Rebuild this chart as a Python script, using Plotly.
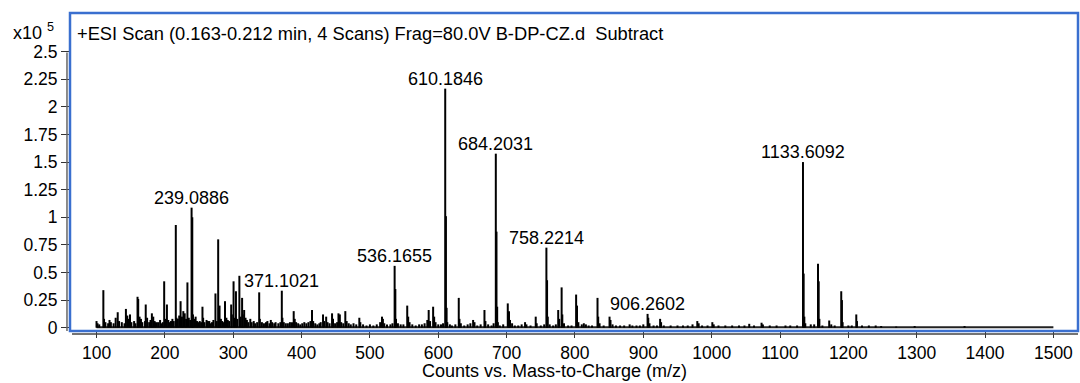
import plotly.graph_objects as go

# Centroid-style stick list: m/z and abundance (counts x 10^5)
mz = [
    100.0, 101.5, 104, 110, 111, 113, 117, 119, 121, 125, 128, 131, 133, 137, 141, 143, 145, 147, 149, 151,
    155, 157, 160, 161, 163, 165, 167, 171, 172, 174, 177, 179, 181, 183, 185, 187, 190, 193, 195, 197,
    199, 201, 203, 205, 207, 209, 211, 213, 216, 217, 219, 221, 223, 225, 227, 229, 231, 233, 235, 237,
    239.0886, 240.1, 241.1, 243, 245, 247, 249, 251, 253, 255, 256, 258, 261, 263, 265, 267, 269, 271, 274, 276,
    278, 279, 280, 282, 284, 286, 288, 290, 292, 294, 297, 298, 300.5, 302, 304, 306, 309, 311, 313, 314,
    316, 318, 320, 322, 325, 327, 330, 332, 335, 338, 339, 342, 345, 348, 350, 353, 355, 357, 360, 362,
    366, 369, 371.1021, 372, 374, 377, 380, 383, 386, 388.5, 390, 392, 395, 398, 401, 404, 407, 410, 413, 415.3,
    417, 420, 423, 426, 428, 431.4, 433, 436, 438, 441, 444.6, 446, 449, 452, 454, 456, 458, 461, 464, 466,
    469, 472, 476, 480, 484.5, 486, 490, 495, 500, 505, 510, 515, 517.7, 519, 521, 525, 530, 533,
    536.1655, 537.2, 538.2, 541, 545, 549, 554.6, 556, 558, 562, 567, 572, 576, 580, 584, 586, 588, 592.5, 594, 596,
    600, 604, 607, 610.1846, 611.2, 612.2, 613.2, 617, 620, 625, 630, 631, 633, 638, 643, 647, 651, 653, 657, 662,
    667.6, 669, 673, 678, 681, 684.2031, 685.2, 686.2, 687.2, 690, 695, 701.7, 703.5, 705, 708, 712, 717, 722, 727, 729,
    735, 742.6, 744, 750, 755, 758.2214, 759.2, 760.2, 763, 768, 772, 775.5, 777, 780.5, 781.5, 784, 790, 795,
    801.7, 803, 805, 810, 813, 816, 820, 825, 833, 834, 836, 842, 850.6, 852, 855, 860, 866, 872, 880, 884,
    890, 895, 900, 906.2602, 907.3, 909, 915, 920, 924.6, 926, 930, 940, 950, 958, 965, 972, 979, 981, 986, 994,
    1001, 1003, 1010, 1020, 1030, 1040, 1048, 1055, 1062, 1073, 1075, 1085, 1095, 1108, 1115, 1125,
    1133.6092, 1134.6, 1135.6, 1137, 1145, 1150, 1155.6, 1156.6, 1157.6, 1162, 1172, 1175, 1180,
    1189.6, 1190.6, 1191.6, 1200, 1205, 1211.6, 1212.6, 1220, 1230, 1240, 1248, 1270, 1297, 1370,
]
abundance = [
    0.06, 0.04, 0.03, 0.34, 0.08, 0.05, 0.04, 0.07, 0.05, 0.04, 0.09, 0.14, 0.06, 0.05, 0.04, 0.17, 0.11, 0.08, 0.12, 0.05,
    0.06, 0.04, 0.28, 0.26, 0.10, 0.08, 0.05, 0.06, 0.21, 0.09, 0.05, 0.07, 0.13, 0.10, 0.06, 0.05, 0.05, 0.07, 0.04, 0.05,
    0.42, 0.08, 0.21, 0.07, 0.05, 0.06, 0.08, 0.06, 0.93, 0.09, 0.08, 0.11, 0.24, 0.10, 0.15, 0.13, 0.08, 0.41, 0.09, 0.07,
    1.087, 1.00, 0.12, 0.08, 0.10, 0.06, 0.05, 0.06, 0.05, 0.19, 0.09, 0.05, 0.07, 0.06, 0.06, 0.04, 0.05, 0.07, 0.31, 0.06,
    0.80, 0.18, 0.20, 0.08, 0.06, 0.05, 0.24, 0.09, 0.07, 0.06, 0.21, 0.12, 0.42, 0.09, 0.33, 0.08, 0.47, 0.10, 0.27, 0.12,
    0.16, 0.09, 0.07, 0.05, 0.08, 0.05, 0.06, 0.04, 0.05, 0.32, 0.08, 0.05, 0.04, 0.05, 0.06, 0.04, 0.07, 0.05, 0.04, 0.05,
    0.04, 0.05, 0.335, 0.09, 0.05, 0.04, 0.04, 0.05, 0.05, 0.15, 0.08, 0.05, 0.04, 0.03, 0.04, 0.05, 0.04, 0.05, 0.06, 0.16,
    0.06, 0.04, 0.03, 0.04, 0.05, 0.12, 0.06, 0.10, 0.05, 0.04, 0.13, 0.08, 0.04, 0.05, 0.13, 0.12, 0.05, 0.04, 0.15, 0.06,
    0.04, 0.03, 0.04, 0.03, 0.09, 0.05, 0.03, 0.02, 0.03, 0.02, 0.03, 0.05, 0.10, 0.08, 0.04, 0.03, 0.03, 0.04,
    0.56, 0.35, 0.08, 0.04, 0.03, 0.03, 0.20, 0.10, 0.05, 0.03, 0.02, 0.03, 0.03, 0.04, 0.07, 0.16, 0.06, 0.19, 0.10, 0.05,
    0.03, 0.03, 0.04, 2.165, 1.01, 0.18, 0.05, 0.03, 0.02, 0.03, 0.27, 0.08, 0.04, 0.02, 0.03, 0.04, 0.07, 0.05, 0.02, 0.03,
    0.16, 0.06, 0.03, 0.02, 0.04, 1.576, 0.87, 0.19, 0.05, 0.02, 0.03, 0.22, 0.15, 0.07, 0.04, 0.02, 0.02, 0.03, 0.05, 0.03,
    0.02, 0.10, 0.04, 0.02, 0.03, 0.725, 0.43, 0.10, 0.03, 0.02, 0.03, 0.16, 0.08, 0.365, 0.12, 0.04, 0.02, 0.02,
    0.30, 0.20, 0.05, 0.03, 0.04, 0.03, 0.02, 0.02, 0.27, 0.10, 0.04, 0.02, 0.10, 0.07, 0.03, 0.02, 0.02, 0.02, 0.03, 0.02,
    0.02, 0.02, 0.03, 0.125, 0.09, 0.04, 0.02, 0.02, 0.08, 0.05, 0.02, 0.02, 0.02, 0.02, 0.02, 0.03, 0.06, 0.04, 0.02, 0.02,
    0.05, 0.03, 0.02, 0.02, 0.02, 0.02, 0.02, 0.035, 0.02, 0.045, 0.03, 0.02, 0.02, 0.02, 0.02, 0.02,
    1.50, 0.49, 0.10, 0.04, 0.03, 0.03, 0.58, 0.42, 0.08, 0.02, 0.065, 0.03, 0.02,
    0.33, 0.25, 0.05, 0.02, 0.02, 0.12, 0.06, 0.02, 0.02, 0.02, 0.015, 0.01, 0.015, 0.015,
]

# Annotated ions
label_mz = [239.0886, 371.1021, 536.1655, 610.1846, 684.2031, 758.2214, 906.2602, 1133.6092]

# Scan range (baseline extent)
scan_start, scan_end = 100, 1500
baseline_level = 0.005

y_ticks = [0, 0.25, 0.5, 0.75, 1, 1.25, 1.5, 1.75, 2, 2.25, 2.5]
y_tick_text = ["0", "0.25", "0.5", "0.75", "1", "1.25", "1.5", "1.75", "2", "2.25", "2.5"]
x_ticks = list(range(100, 1501, 100))

FONT = "Liberation Sans, Arial, Helvetica, sans-serif"

# build the stick segments
sx, sy = [], []
for m, a in zip(mz, abundance):
    sx += [m, m, None]
    sy += [0, a, None]

fig = go.Figure()
fig.add_trace(go.Scatter(
    x=[scan_start, scan_end], y=[baseline_level, baseline_level], mode="lines",
    line=dict(color="#222222", width=2), hoverinfo="skip", showlegend=False,
))
fig.add_trace(go.Scatter(
    x=sx, y=sy, mode="lines", line=dict(color="black", width=2),
    hoverinfo="skip", showlegend=False,
))

annotations = []
lookup = dict(zip(mz, abundance))
for m in label_mz:
    annotations.append(dict(
        x=m, y=lookup[m], xref="x", yref="y", text=f"{m:.4f}", showarrow=False,
        xanchor="center", yanchor="bottom", yshift=-2,
        font=dict(family=FONT, size=18, color="black"),
    ))

annotations.append(dict(
    x=0.005, y=0.937, xref="paper", yref="paper", xanchor="left", yanchor="middle",
    text="+ESI Scan (0.163-0.212 min, 4 Scans) Frag=80.0V B-DP-CZ.d\u00a0\u00a0Subtract",
    showarrow=False, font=dict(family=FONT, size=18.3, color="black"),
))
annotations.append(dict(
    x=-0.0585, y=0.943, xref="paper", yref="paper", xanchor="left", yanchor="middle",
    text="x10 <sup>5</sup>", showarrow=False, font=dict(family=FONT, size=18, color="black"),
))
annotations.append(dict(
    x=0.481, y=-0.1245, xref="paper", yref="paper", xanchor="center", yanchor="middle",
    text="Counts vs. Mass-to-Charge (m/z)", showarrow=False,
    font=dict(family=FONT, size=18, color="black"),
))

shapes = [
    # plot frame
    dict(type="rect", xref="paper", yref="paper", x0=0, y0=0, x1=1, y1=1,
         line=dict(color="#3a6fcf", width=2.5), layer="above"),
    # offset axis lines
    dict(type="line", xref="paper", yref="paper", x0=-0.003, x1=-0.003, y0=0, y1=0.876,
         line=dict(color="#666666", width=1.5)),
    dict(type="line", xref="paper", yref="paper", x0=0.002, x1=1, y0=-0.0095, y1=-0.0095,
         line=dict(color="#444444", width=1.5)),
]

fig.update_layout(
    width=1080, height=383,
    margin=dict(l=70, r=2, t=13, b=52),
    paper_bgcolor="white", plot_bgcolor="white",
    showlegend=False,
    annotations=annotations,
    shapes=shapes,
    font=dict(family=FONT, color="black"),
)
fig.update_xaxes(
    range=[61.2, 1536], tickvals=x_ticks, ticks="outside", ticklen=6, tickwidth=1.2,
    tickcolor="#333333", showgrid=False, zeroline=False, showline=False,
    tickfont=dict(family=FONT, size=17.5, color="black"),
)
fig.update_yaxes(
    range=[-0.03, 2.85], tickvals=y_ticks, ticktext=y_tick_text, ticks="outside",
    ticklen=8, tickwidth=1.2, tickcolor="#333333", showgrid=False, zeroline=False,
    showline=False, tickfont=dict(family=FONT, size=17.5, color="black"),
)

fig.write_html("out.html")
